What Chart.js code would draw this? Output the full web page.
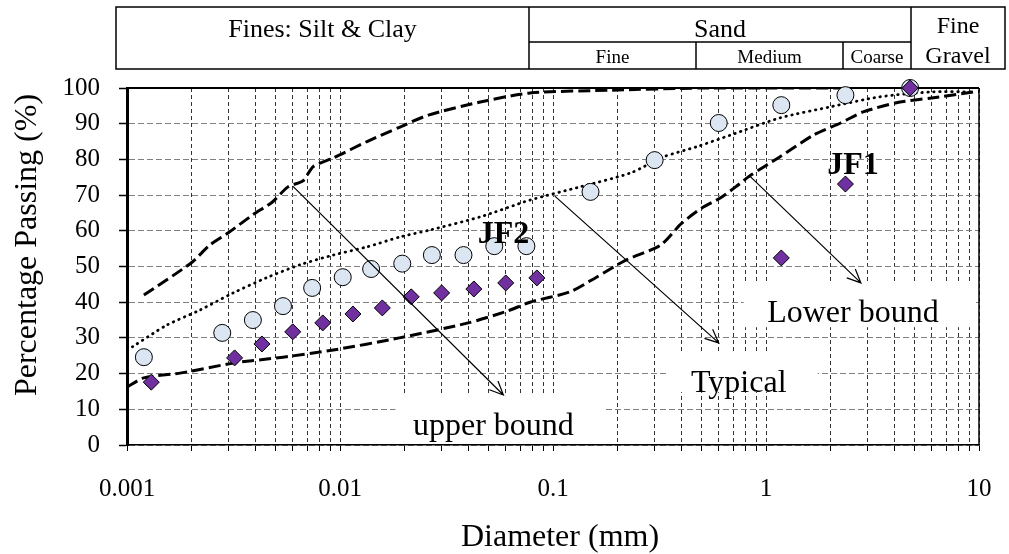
<!DOCTYPE html>
<html>

<head>
  <title>Grain Size Distribution</title>
  <script src="https://cdn.jsdelivr.net/npm/chart.js"></script>
  <style>
    html, body { margin: 0; padding: 0; background: #fff; }
    #wrap { width: 1009px; height: 554px; }
  </style>
</head>

<body>
  <div id="wrap"><canvas id="gradation"></canvas></div>

  <script>
    // envelope curves (diameter in mm, percent passing)
    const upperD = [0.0012, 0.002, 0.00245, 0.003, 0.0039, 0.0048, 0.0057, 0.0067, 0.0075, 0.0093, 0.0134, 0.019, 0.026, 0.045, 0.078, 0.19, 0.5, 1.2, 2.5];
    const upperP = [42, 51, 56, 59.5, 64.5, 68, 72.3, 74, 78, 80.4, 85, 89, 92.4, 96, 98.6, 99.4, 100, 100, 100];

    const typicalD = [0.00106, 0.00154, 0.0022, 0.00315, 0.0045, 0.0065, 0.0093, 0.0134, 0.0192, 0.0264, 0.0455, 0.078, 0.134, 0.231, 0.33, 0.47, 0.68, 1.16, 2.0, 3.4, 5.95, 9.5];
    const typicalP = [27.5, 33.6, 37.8, 42.6, 46.8, 50.5, 53.2, 55.5, 58.3, 60.2, 63.9, 68.6, 72.3, 76.2, 80.7, 83.5, 86.8, 91.6, 94.7, 97.5, 98.9, 98.9];

    const lowerD = [0.001, 0.0012, 0.0018, 0.0032, 0.0054, 0.0093, 0.019, 0.04, 0.061, 0.078, 0.12, 0.16, 0.22, 0.32, 0.4, 0.5, 0.61, 0.72, 0.85, 1.16, 1.67, 2.24, 2.86, 4.2, 6, 9.5, 10];
    const lowerP = [16.2, 18.8, 20.2, 23, 24.6, 26.6, 30, 34.2, 37.5, 40, 42.9, 47, 51.8, 56, 62, 66.4, 69.2, 72.3, 75.6, 80.7, 86.8, 90.2, 93.3, 96, 97.2, 98.9, 99];

    // measured samples
    const jf2D = [0.0012, 0.0028, 0.0039, 0.0054, 0.0074, 0.0103, 0.014, 0.0196, 0.027, 0.038, 0.053, 0.075, 0.15, 0.3, 0.6, 1.18, 2.36, 4.75];
    const jf2P = [24.6, 31.4, 35, 38.9, 44, 47, 49.3, 50.8, 53.2, 53.2, 55.7, 55.7, 70.9, 79.8, 90.2, 95.2, 98, 100];

    const jf1D = [0.0013, 0.0032, 0.0043, 0.006, 0.0083, 0.0115, 0.0158, 0.0216, 0.03, 0.0425, 0.06, 0.084, 1.18, 2.36, 4.75];
    const jf1P = [17.6, 24.4, 28.3, 31.7, 34.2, 36.7, 38.4, 41.5, 42.6, 43.7, 45.4, 46.8, 52.4, 73.1, 100];

    // axis ticks
    const decadeLabels = ['0.001', '0.01', '0.1', '1', '10'];
    const gridMultipliers = [1, 2, 3, 4, 5, 6, 7, 8, 9];

    // classification band edges along the diameter axis
    const bandEdges = [0.00089, 0.077, 0.47, 2.3, 4.8, 13.2];

    const serif = "'Liberation Serif', 'Times New Roman', serif";

    // white boxes behind the curve names, [d1, d2] x [p1, p2]
    const noteBoxes = [
      { d: [0.0182, 0.176], p: [0.6, 13.7] },
      { d: [0.349, 1.75], p: [14.8, 25.8] },
      { d: [0.786, 9.68], p: [33, 45.7] }
    ];
    const arrows = [
      { from: [0.006, 72.5], to: [0.0585, 14] },
      { from: [0.102, 69.7], to: [0.60, 28.6] },
      { from: [0.83, 75.6], to: [2.79, 45.4] }
    ];
    const notes = [
      { text: 'upper bound', d: 0.0525, p: 2.8, bold: false },
      { text: 'Typical', d: 0.745, p: 14.8, bold: false },
      { text: 'Lower bound', d: 2.56, p: 34.5, bold: false },
      { text: 'JF2', d: 0.0585, p: 56.6, bold: true },
      { text: 'JF1', d: 2.56, p: 75.9, bold: true }
    ];

    function points(ds, ps) {
      return ds.map((d, i) => ({ x: d, y: ps[i] }));
    }

    function isDecade(v) {
      const l = Math.log10(v);
      return Math.abs(l - Math.round(l)) < 1e-9;
    }

    const overlay = {
      id: 'overlay',
      beforeDatasetsDraw(chart) {
        const { ctx, chartArea: a, scales: { x, y } } = chart;
        ctx.save();
        ctx.fillStyle = '#fff';
        for (const b of noteBoxes) {
          const x1 = x.getPixelForValue(b.d[0]), x2 = x.getPixelForValue(b.d[1]);
          const y1 = y.getPixelForValue(b.p[1]), y2 = y.getPixelForValue(b.p[0]);
          ctx.fillRect(x1, y1, x2 - x1, y2 - y1);
        }
        ctx.strokeStyle = '#000';
        ctx.lineWidth = 2;
        ctx.beginPath();
        ctx.moveTo(a.left, a.top);
        ctx.lineTo(a.right, a.top);
        ctx.stroke();
        ctx.lineWidth = 1.5;
        ctx.beginPath();
        ctx.moveTo(a.right, a.top);
        ctx.lineTo(a.right, a.bottom);
        ctx.stroke();
        ctx.restore();
      },
      afterDatasetsDraw(chart) {
        const { ctx, scales: { x, y } } = chart;
        ctx.save();
        ctx.strokeStyle = '#000';
        ctx.lineWidth = 1.2;
        for (const ar of arrows) {
          const x1 = x.getPixelForValue(ar.from[0]), y1 = y.getPixelForValue(ar.from[1]);
          const x2 = x.getPixelForValue(ar.to[0]), y2 = y.getPixelForValue(ar.to[1]);
          const ang = Math.atan2(y2 - y1, x2 - x1);
          ctx.beginPath();
          ctx.moveTo(x1, y1);
          ctx.lineTo(x2, y2);
          ctx.moveTo(x2 - 15 * Math.cos(ang - 0.42), y2 - 15 * Math.sin(ang - 0.42));
          ctx.lineTo(x2, y2);
          ctx.lineTo(x2 - 15 * Math.cos(ang + 0.42), y2 - 15 * Math.sin(ang + 0.42));
          ctx.stroke();
        }
        ctx.fillStyle = '#000';
        ctx.textAlign = 'center';
        ctx.textBaseline = 'alphabetic';
        for (const n of notes) {
          ctx.font = (n.bold ? 'bold ' : '') + '32px ' + serif;
          ctx.fillText(n.text, x.getPixelForValue(n.d), y.getPixelForValue(n.p));
        }
        ctx.restore();
      },
      afterDraw(chart) {
        const { ctx, scales: { x } } = chart;
        const ex = bandEdges.map(d => Math.round(x.getPixelForValue(d)));
        const top = 7, mid = 42, bot = 69;
        ctx.save();
        ctx.strokeStyle = '#000';
        ctx.lineWidth = 1.5;
        ctx.strokeRect(ex[0], top, ex[5] - ex[0], bot - top);
        ctx.beginPath();
        ctx.moveTo(ex[1], top); ctx.lineTo(ex[1], bot);
        ctx.moveTo(ex[4], top); ctx.lineTo(ex[4], bot);
        ctx.moveTo(ex[1], mid); ctx.lineTo(ex[4], mid);
        ctx.moveTo(ex[2], mid); ctx.lineTo(ex[2], bot);
        ctx.moveTo(ex[3], mid); ctx.lineTo(ex[3], bot);
        ctx.stroke();

        ctx.fillStyle = '#000';
        ctx.textAlign = 'center';
        ctx.textBaseline = 'alphabetic';
        ctx.font = '26px ' + serif;
        ctx.fillText('Fines: Silt & Clay', (ex[0] + ex[1]) / 2, 37);
        ctx.fillText('Sand', (ex[1] + ex[4]) / 2, 37);
        ctx.font = '24px ' + serif;
        ctx.fillText('Fine', (ex[4] + ex[5]) / 2, 33);
        ctx.fillText('Gravel', (ex[4] + ex[5]) / 2, 63);
        ctx.font = '19px ' + serif;
        ctx.fillText('Fine', (ex[1] + ex[2]) / 2, 63);
        ctx.fillText('Medium', (ex[2] + ex[3]) / 2, 63);
        ctx.fillText('Coarse', (ex[3] + ex[4]) / 2, 63);

        // axis titles
        ctx.font = '32px ' + serif;
        ctx.fillText('Diameter (mm)', 560, 546);
        ctx.translate(36, 245);
        ctx.rotate(-Math.PI / 2);
        ctx.fillText('Percentage Passing (%)', 0, 0);
        ctx.restore();
      }
    };

    const curveStyle = { showLine: true, pointRadius: 0, borderColor: '#000', tension: 0.25, fill: false };

    new Chart(document.getElementById('gradation'), {
      type: 'scatter',
      data: {
        datasets: [
          {
            label: 'JF1', data: points(jf1D, jf1P), order: 0, clip: false,
            pointStyle: 'rectRot', pointRadius: 8, backgroundColor: '#7030a0',
            borderColor: '#000', borderWidth: 1
          },
          {
            label: 'JF2', data: points(jf2D, jf2P), order: 1, clip: false,
            pointStyle: 'circle', pointRadius: 8.5, backgroundColor: '#dce6f2',
            borderColor: '#000', borderWidth: 1
          },
          { label: 'Upper bound', data: points(upperD, upperP), order: 2, ...curveStyle, borderWidth: 3, borderDash: [12, 5] },
          { label: 'Typical', data: points(typicalD, typicalP), order: 2, ...curveStyle, borderWidth: 2.8, borderDash: [0.5, 5.5], borderCapStyle: 'round' },
          { label: 'Lower bound', data: points(lowerD, lowerP), order: 2, ...curveStyle, borderWidth: 3, borderDash: [12, 5] }
        ]
      },
      options: {
        responsive: true,
        maintainAspectRatio: false,
        animation: false,
        devicePixelRatio: 1,
        layout: { padding: { left: 0, right: 30, top: 88, bottom: 0 } },
        plugins: { legend: { display: false }, tooltip: { enabled: false } },
        scales: {
          x: {
            type: 'logarithmic',
            min: 0.001,
            max: 10,
            afterBuildTicks(scale) {
              const ticks = [];
              decadeLabels.forEach(lbl => {
                const base = parseFloat(lbl);
                gridMultipliers.forEach(m => {
                  const v = base * m;
                  if (v <= 10 + 1e-9) ticks.push({ value: v });
                });
              });
              scale.ticks = ticks;
            },
            afterFit(scale) { scale.height = 109; },
            ticks: {
              autoSkip: false,
              maxRotation: 0,
              padding: 16,
              color: '#000',
              font: { family: serif, size: 25, lineHeight: 1.76 },
              callback(v) {
                if (!isDecade(v)) return '';
                return decadeLabels[Math.round(Math.log10(v)) + 3];
              }
            },
            grid: { color: '#333', lineWidth: 1, tickLength: 6, tickColor: '#000', tickWidth: 1 },
            border: { color: '#000', width: 1.5, dash: [4, 3] }
          },
          y: {
            min: 0,
            max: 100,
            afterFit(scale) { scale.width = 127; },
            ticks: {
              stepSize: 10,
              padding: 19,
              color: '#000',
              font: { family: serif, size: 25 }
            },
            grid: { color: '#808080', lineWidth: 1, tickLength: 8, tickColor: '#000', tickWidth: 1.5 },
            border: { color: '#000', width: 3, dash: [6, 3] }
          }
        }
      },
      plugins: [overlay]
    });
  </script>
</body>

</html>
